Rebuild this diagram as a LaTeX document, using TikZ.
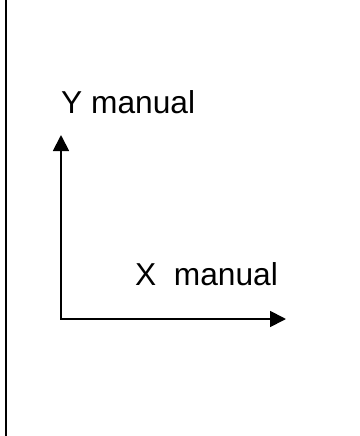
\documentclass[tikz,border=0pt]{standalone}
\usepackage{fontspec}
\setmainfont{Liberation Sans}
\usetikzlibrary{arrows.meta}

\begin{document}
\begin{tikzpicture}[
x=1pt,
y=-1pt,
axislabel/.style={
  inner sep=0pt,
  anchor=base west,
  font=\fontsize{31.7}{36}\selectfont
  },
axis/.style={
  line width=1.8pt
  },
>={Triangle[length=16pt,width=16pt]}
]
\useasboundingbox (0,0) rectangle (359,436);
\draw[line width=2pt] (5.7,0) -- (5.7,436);
\coordinate (orig) at (61,319);
\coordinate (ymax) at (61,135);
\coordinate (xmax) at (286,319);
\node[axislabel] (ylab) at (61,113) {Y manual};
\node[axislabel] (xlab) at (135,285) {X\ \ manual};
\draw[axis,->] ([yshift=1pt]orig) -- (ymax);
\draw[axis,->] ([xshift=-0.9pt]orig) -- (xmax);
\end{tikzpicture}
\end{document}
